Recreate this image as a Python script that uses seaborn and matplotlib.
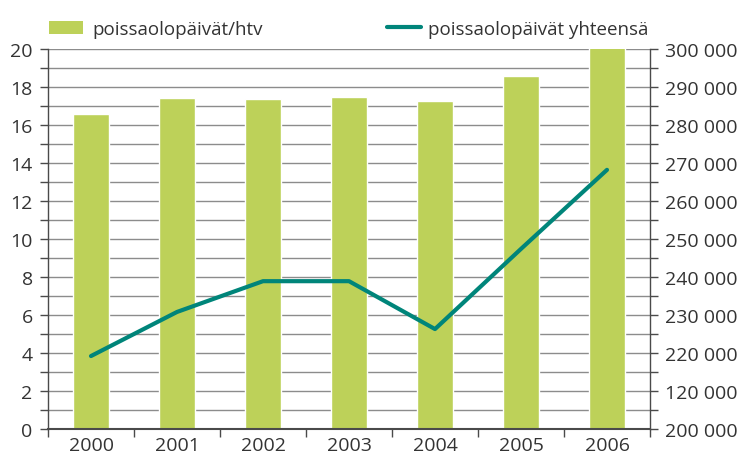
import matplotlib
matplotlib.use("Agg")
import matplotlib.pyplot as plt
import seaborn as sns
import pandas as pd
import numpy as np
from matplotlib.patches import Patch
from matplotlib.lines import Line2D

years = ["2000", "2001", "2002", "2003", "2004", "2005", "2006"]
per_htv = [16.6, 17.4, 17.35, 17.5, 17.25, 18.6, 20.1]
total_days = [219200, 230800, 238900, 238900, 226300, 247400, 268200]
left_ticks = list(range(0, 21, 2))
right_tick_values = list(range(200000, 300001, 10000))
right_tick_labels = ["200 000", "120 000", "220 000", "230 000", "240 000", "250 000",
                     "260 000", "270 000", "280 000", "290 000", "300 000"]
label_bar = "poissaolopäivät/htv"
label_line = "poissaolopäivät yhteensä"

sns.set_theme(style="white")
plt.rcParams['font.family'] = ['Open Sans', 'DejaVu Sans']

bar_color = "#bdd159"
line_color = "#00857a"
grid_color = "#8c8c8c"
axis_color = "#4a4a4a"
text_color = "#333333"

df = pd.DataFrame({"year": years, "htv": per_htv, "total": total_days})

fig = plt.figure(figsize=(7.43, 4.56), dpi=100)
ax = fig.add_axes([48/743, 26/456, 602/743, 380/456])

# gridlines every unit
for v in range(1, 21):
    ax.axhline(v, color=grid_color, lw=1.0, zorder=0)

sns.barplot(data=df, x="year", y="htv", color=bar_color, width=0.41,
            saturation=1, ax=ax, zorder=2)
ax.set_xlim(-0.5, 6.5)
ax.set_ylim(0, 20)
ax.set_yticks(left_ticks)
ax.set_yticks(range(0, 21), minor=True)
ax.tick_params(axis="y", which="both", direction="out", length=6, width=1,
               color=axis_color, labelsize=14, labelcolor=text_color, pad=5, left=True)
ax.set_xlabel("")
ax.set_ylabel("")

# x ticks: labels at centers, tick marks at boundaries
ax.set_xticks(range(len(years)))
ax.set_xticklabels(years)
ax.tick_params(axis="x", which="major", length=0, labelsize=14, labelcolor=text_color, pad=5)
ax.set_xticks(np.arange(-0.5, 7.0, 1.0), minor=True)
ax.tick_params(axis="x", which="minor", direction="out", length=6, width=1,
               color=axis_color, bottom=True)

for side in ["top", "right"]:
    ax.spines[side].set_visible(False)
ax.spines["left"].set_color(axis_color)
ax.spines["bottom"].set_color(axis_color)
ax.spines["left"].set_linewidth(1)
ax.spines["bottom"].set_linewidth(1.5)

ax2 = ax.twinx()
sns.lineplot(data=df, x="year", y="total", color=line_color, lw=3, ax=ax2,
             sort=False, zorder=3)
ax2.set_ylim(200000, 300000)
ax2.set_yticks(right_tick_values)
ax2.set_yticklabels(right_tick_labels)
ax2.set_yticks(range(200000, 300001, 5000), minor=True)
ax2.tick_params(axis="y", which="both", direction="out", length=6, width=1,
                color=axis_color, labelsize=14, labelcolor=text_color, pad=5, right=True)
ax2.set_ylabel("")
ax2.set_xlabel("")
for side in ["top", "left", "bottom"]:
    ax2.spines[side].set_visible(False)
ax2.spines["right"].set_color(axis_color)
ax2.spines["right"].set_linewidth(1)
ax2.set_xlim(-0.5, 6.5)

leg_kw = dict(frameon=False, fontsize=13.5, handlelength=1.8, handleheight=0.7,
              borderpad=0, borderaxespad=0, labelcolor=text_color, loc="center left")
leg1 = fig.legend(handles=[Patch(facecolor=bar_color, edgecolor="none", label=label_bar)],
                  bbox_to_anchor=(49/743, 1 - 30/456), handletextpad=0.5, **leg_kw)
leg2 = fig.legend(handles=[Line2D([0], [0], color=line_color, lw=3, label=label_line)],
                  bbox_to_anchor=(387/743, 1 - 30/456), handletextpad=0.4, **leg_kw)

fig.savefig("out.png", dpi=100)
